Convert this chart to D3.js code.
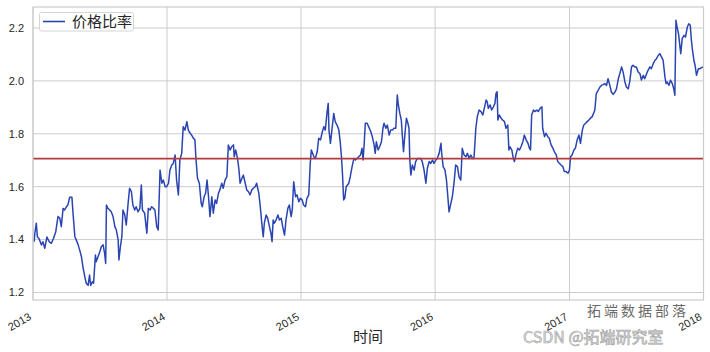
<!DOCTYPE html>
<html><head><meta charset="utf-8">
<script src="https://cdn.jsdelivr.net/npm/d3@7"></script>
<style>body{margin:0;background:#fff}svg{display:block}</style>
</head><body>
<svg id="c" width="710" height="352"></svg>
<script>
// calendar days since 2013-01-01
const days = [3,5,9,12,16,23,27,32,38,44,50,56,62,68,73,77,82,86,91,95,100,106,109,114,118,123,127,132,136,141,145,150,154,157,162,165,170,172,177,182,186,191,195,198,200,204,209,213,218,223,227,232,234,238,242,245,250,254,259,263,268,272,277,281,286,291,295,298,304,
310,314,319,323,328,332,337,341,346,351,355,360,364,369,373,378,382,387,391,396,400,405,409,414,419,423,428,432,437,441,444,448,453,458,461,466,470,474,478,482,487,491,496,500,505,509,514,518,523,528,532,537,541,546,548,552,557,561,564,569,573,578,582,587,591,596,600,605,609,
615,619,624,627,630,635,639,644,648,651,654,657,662,667,671,676,680,685,689,694,698,703,706,710,715,719,724,728,733,737,742,746,751,755,758,765,769,774,778,783,787,792,796,801,804,806,810,814,819,823,828,833,837,840,843,846,849,853,860,864,869,874,878,883,887,892,896,899,902,905,910,914,
920,924,929,932,935,940,944,949,953,956,961,965,970,974,979,983,988,992,995,999,1003,1006,1009,1013,1017,1021,1024,1026,1029,1033,1038,1042,1047,1051,1056,1060,1065,1070,1074,1079,1083,1088,1092,1097,1101,1106,1111,1113,1117,1122,1126,1129,1133,1138,1142,1147,1151,1156,1160,1165,1169,1174,1179,1183,1188,1192,1197,1201,1206,1210,1215,1220,
1225,1229,1234,1237,1240,1245,1249,1254,1258,1261,1264,1266,1270,1275,1279,1284,1288,1293,1296,1299,1304,1308,1311,1316,1320,1325,1329,1334,1338,1343,1348,1352,1355,1358,1363,1367,1372,1376,1381,1386,1388,1393,1397,1402,1406,1411,1416,1420,1425,1429,1434,1438,1443,1447,1452,1457,1461,1464,1468,1473,1477,1482,1487,1491,1496,1500,1505,1509,1514,1518,1523,
1530,1534,1539,1544,1548,1553,1557,1562,1566,1571,1575,1580,1585,1589,1594,1598,1603,1607,1612,1616,1621,1625,1630,1634,1639,1643,1648,1653,1657,1662,1666,1671,1675,1680,1684,1689,1694,1698,1703,1707,1712,1716,1718,1721,1724,1727,1732,1736,1741,1745,1748,1751,1754,1758,1762,1764,1768,1773,1777,1782,1786,1790,1793,1796,1800,1803,1807,1812,1816,1821,1825];

const ratio = [1.392,1.424,1.462,1.41,1.405,1.38,1.392,1.367,1.41,1.392,1.386,1.405,1.43,1.487,1.481,1.449,1.518,1.512,1.524,1.531,1.56,1.56,1.50,1.411,1.398,1.38,1.361,1.335,1.297,1.26,1.235,1.227,1.266,1.227,1.241,1.235,1.342,1.316,1.335,1.354,1.373,1.38,1.348,1.31,1.531,1.518,1.512,1.505,1.487,1.449,1.436,1.398,1.323,1.373,1.411,1.512,1.493,1.455,1.537,1.594,1.581,1.531,1.512,1.524,1.505,1.518,1.606,1.512,1.50,
1.424,1.518,1.512,1.524,1.518,1.512,1.449,1.436,1.663,1.613,1.625,1.60,1.60,1.613,1.663,1.682,1.688,1.72,1.625,1.569,1.701,1.726,1.827,1.814,1.846,1.814,1.802,1.795,1.783,1.777,1.701,1.632,1.613,1.537,1.524,1.562,1.575,1.625,1.562,1.487,1.562,1.50,1.55,1.537,1.575,1.588,1.613,1.594,1.625,1.638,1.758,1.739,1.751,1.758,1.713,1.739,1.707,1.663,1.613,1.632,1.644,1.613,1.588,1.581,1.569,1.588,1.594,1.60,1.613,
1.575,1.524,1.449,1.411,1.462,1.493,1.481,1.449,1.424,1.392,1.474,1.462,1.474,1.493,1.474,1.481,1.449,1.417,1.474,1.518,1.531,1.487,1.512,1.619,1.562,1.569,1.543,1.556,1.55,1.531,1.524,1.556,1.569,1.688,1.739,1.713,1.707,1.732,1.783,1.777,1.802,1.827,1.814,1.884,1.915,1.814,1.764,1.814,1.877,1.846,1.833,1.814,1.764,1.713,1.644,1.55,1.556,1.60,1.613,1.638,1.676,1.707,1.701,1.707,1.713,1.72,1.745,1.701,1.764,1.84,1.84,1.827,
1.808,1.789,1.758,1.726,1.77,1.739,1.751,1.77,1.821,1.84,1.821,1.833,1.795,1.814,1.814,1.821,1.821,1.947,1.909,1.877,1.852,1.789,1.732,1.802,1.859,1.84,1.821,1.707,1.644,1.682,1.663,1.695,1.707,1.707,1.707,1.695,1.663,1.613,1.67,1.695,1.688,1.701,1.688,1.701,1.707,1.726,1.764,1.726,1.676,1.663,1.625,1.575,1.505,1.537,1.562,1.619,1.682,1.676,1.638,1.625,1.745,1.72,1.713,1.726,1.707,1.72,1.707,1.707,1.821,1.865,1.89,1.884,
1.871,1.896,1.928,1.921,1.896,1.909,1.890,1.902,1.915,1.953,1.959,1.852,1.871,1.859,1.852,1.846,1.821,1.833,1.739,1.751,1.739,1.707,1.695,1.726,1.745,1.739,1.751,1.77,1.795,1.777,1.764,1.745,1.739,1.871,1.890,1.884,1.890,1.884,1.896,1.902,1.821,1.789,1.802,1.789,1.783,1.758,1.745,1.732,1.72,1.695,1.688,1.682,1.676,1.657,1.657,1.651,1.663,1.713,1.72,1.739,1.745,1.777,1.795,1.764,1.814,1.833,1.84,1.846,1.852,1.859,1.865,
1.889,1.952,1.964,1.977,1.983,1.986,1.99,1.983,2.008,1.983,1.958,1.949,1.958,1.97,2.008,2.027,2.053,2.034,1.996,1.977,1.97,1.996,2.053,2.059,2.053,2.053,2.034,2.027,2.003,2.021,2.008,2.027,2.040,2.053,2.046,2.065,2.078,2.084,2.097,2.103,2.09,2.078,2.053,2.015,1.99,1.996,1.983,2.003,1.99,1.97,1.946,2.229,2.204,2.178,2.128,2.103,2.16,2.172,2.166,2.204,2.216,2.21,2.153,2.116,2.077,2.059,2.021,2.046,2.046,2.05,2.053];

const meanRatio = 1.706;
const yTicks = [1.2, 1.4, 1.6, 1.8, 2.0, 2.2];
const yearTicks = [2013, 2014, 2015, 2016, 2017, 2018];
const seriesName = "价格比率";
const xLabel = "时间";

const svg = d3.select("#c");
const L = 33, R = 703.5, T = 7, B = 300;
const start = new Date(2013, 0, 1);
const dates = days.map(d => d3.timeDay.offset(start, d));
const data = dates.map((d, i) => ({d, v: ratio[i]}));

const x = d3.scaleTime().domain([new Date(2013,0,1), new Date(2018,0,1)]).range([L, R]);
const y = d3.scaleLinear().domain([1.1716, 2.2794]).range([B, T]);

const grid = "#cccccc";
const txt = "#262626";
const latin = "'Liberation Sans', Arial, sans-serif";
const cjk = "'Noto Sans CJK SC', sans-serif";

// grid
const g = svg.append("g");
g.selectAll(".hy").data(yTicks).join("line")
  .attr("x1", L).attr("x2", R).attr("y1", d => y(d)).attr("y2", d => y(d))
  .attr("stroke", grid).attr("stroke-width", 1);
g.selectAll(".vx").data(yearTicks).join("line")
  .attr("x1", d => x(new Date(d,0,1))).attr("x2", d => x(new Date(d,0,1)))
  .attr("y1", T).attr("y2", B)
  .attr("stroke", grid).attr("stroke-width", 1);

// series
svg.append("path").datum(data)
  .attr("fill", "none").attr("stroke", "#2a45b2").attr("stroke-width", 1.5)
  .attr("stroke-linejoin", "round")
  .attr("d", d3.line().x(d => x(d.d)).y(d => y(d.v)));

// mean line
svg.append("line").attr("x1", L).attr("x2", R)
  .attr("y1", y(meanRatio)).attr("y2", y(meanRatio))
  .attr("stroke", "#b43a3c").attr("stroke-width", 1.6);

// frame
svg.append("rect").attr("x", L).attr("y", T).attr("width", R - L).attr("height", B - T)
  .attr("fill", "none").attr("stroke", grid).attr("stroke-width", 1.2);

// y tick labels
svg.selectAll(".yl").data(yTicks).join("text")
  .attr("x", 24).attr("y", d => y(d)).attr("dy", "0.35em")
  .attr("text-anchor", "end").attr("font-family", latin).attr("font-size", 11)
  .attr("fill", txt).text(d => d3.format(".1f")(d));

// x tick labels
svg.selectAll(".xl").data(yearTicks).join("text")
  .attr("transform", d => `translate(${x(new Date(d,0,1)) - 1},319) rotate(-30)`)
  .attr("text-anchor", "end").attr("font-family", latin).attr("font-size", 11)
  .attr("fill", txt).text(d => d);

// x axis label
svg.append("text").attr("x", 368).attr("y", 342).attr("text-anchor", "middle")
  .attr("font-family", cjk).attr("font-size", 15).attr("fill", txt).text(xLabel);

// legend
const lg = svg.append("g");
lg.append("rect").attr("x", 39.5).attr("y", 12.5).attr("width", 94).attr("height", 18.5)
  .attr("rx", 2).attr("fill", "#fff").attr("fill-opacity", 0.85).attr("stroke", "#d5d5d5");
lg.append("line").attr("x1", 43).attr("x2", 65).attr("y1", 21.5).attr("y2", 21.5)
  .attr("stroke", "#2a45b2").attr("stroke-width", 1.6);
lg.append("text").attr("x", 72).attr("y", 26.5).attr("font-family", cjk).attr("font-size", 15)
  .attr("fill", txt).text(seriesName);

// watermark
svg.append("text").attr("x", 523).attr("y", 343).attr("font-family", cjk).attr("font-size", 16)
  .attr("fill", "#e6e6e6").attr("stroke", "#a0a0a0").attr("stroke-width", 0.6).text("CSDN @拓端研究室");
svg.append("text").attr("x", 587).attr("y", 316).attr("font-family", cjk).attr("font-size", 14)
  .attr("letter-spacing", 3).attr("fill", "#6a6a6a").attr("stroke", "#fff").attr("stroke-width", 0.4)
  .attr("paint-order", "stroke").text("拓端数据部落");
</script>
</body></html>
